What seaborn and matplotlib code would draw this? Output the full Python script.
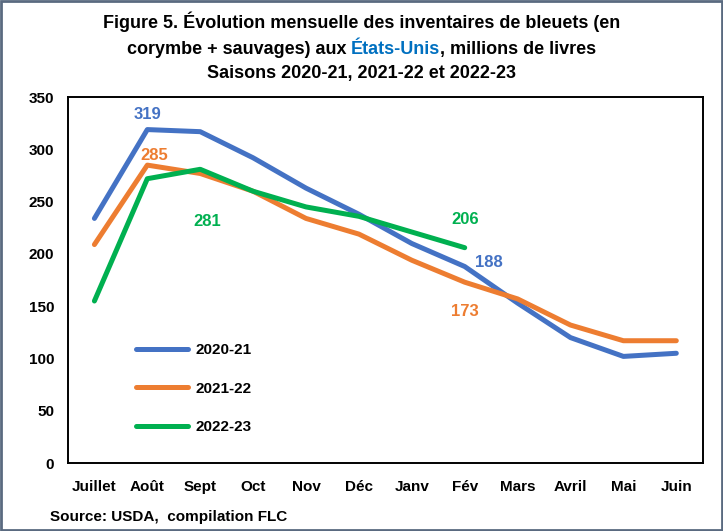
import pandas as pd
import numpy as np
import matplotlib.pyplot as plt
import seaborn as sns
from matplotlib.patches import Rectangle

# Data
months = ['Juillet', 'Août', 'Sept', 'Oct', 'Nov', 'Déc', 'Janv', 'Fév',
          'Mars', 'Avril', 'Mai', 'Juin']
s2020 = [234, 319, 317, 292, 263, 238, 210, 188, 153, 120, 102, 105]
s2021 = [209, 285, 277, 260, 234, 219, 194, 173, 157, 132, 117, 117]
s2022 = [155, 272, 281, 260, 245, 236, 221, 206]
seasons = ['2020-21', '2021-22', '2022-23']
colors = ['#4472C4', '#ED7D31', '#00B050']

rows = []
for season, vals in zip(seasons, [s2020, s2021, s2022]):
    for m, v in zip(months, vals):
        rows.append({'Mois': m, 'Valeur': v, 'Saison': season})
df = pd.DataFrame(rows)

sns.set_theme(style="white")
plt.rcParams['font.family'] = ['Liberation Sans Narrow', 'Liberation Sans', 'DejaVu Sans']
plt.rcParams['font.weight'] = 'bold'
plt.rcParams['text.color'] = 'black'

fig = plt.figure(figsize=(7.23, 5.31), dpi=100)
ax = fig.add_axes([0.094, 0.128, 0.878, 0.689])

sns.lineplot(data=df, x='Mois', y='Valeur', hue='Saison', palette=colors,
             linewidth=3.6, sort=False, ax=ax)
for line in ax.get_lines():
    line.set_solid_capstyle('round')

ax.set_xlim(-0.5, 11.5)
ax.set_ylim(0, 350)
ax.set_yticks(range(0, 351, 50))
ax.set_xlabel('')
ax.set_ylabel('')
ax.tick_params(axis='both', length=0, labelsize=11, colors='black')
ax.tick_params(axis='x', pad=12)
ax.tick_params(axis='y', pad=10)
for lab in ax.get_xticklabels() + ax.get_yticklabels():
    lab.set_fontweight('bold')
for sp in ax.spines.values():
    sp.set_color('black')
    sp.set_linewidth(1.4)

# Data labels
lab_kw = dict(fontsize=12, fontweight='bold', ha='center', va='center')
ax.text(1, 333, '319', color=colors[0], **lab_kw)
ax.text(1.13, 294, '285', color=colors[1], **lab_kw)
ax.text(2.13, 231, '281', color=colors[2], **lab_kw)
ax.text(7, 233, '206', color=colors[2], **lab_kw)
ax.text(7.45, 192, '188', color=colors[0], **lab_kw)
ax.text(7, 145, '173', color=colors[1], **lab_kw)

# Legend
leg = ax.legend(loc='upper left', bbox_to_anchor=(0.085, 0.365), frameon=False,
                handlelength=3.4, handletextpad=0.5, labelspacing=1.6,
                prop={'weight': 'bold', 'size': 11})
for h in leg.get_lines():
    h.set_linewidth(3.6)
    h.set_solid_capstyle('round')

# Title
tsize = 13
t_kw = dict(fontsize=tsize, fontweight='bold', ha='center', va='center')
fig.text(0.5, 0.959, 'Figure 5. Évolution mensuelle des inventaires de bleuets (en', **t_kw)
fig.text(0.5, 0.862, 'Saisons 2020-21, 2021-22 et 2022-23', **t_kw)
parts = [('corymbe + sauvages) aux ', 'black'), ('États-Unis', '#0070C0'),
         (', millions de livres', 'black')]
fig.canvas.draw()
renderer = fig.canvas.get_renderer()
texts = []
widths = []
for s, c in parts:
    t = fig.text(0, 0.906, s, color=c, fontsize=tsize, fontweight='bold',
                 ha='left', va='center')
    w = t.get_window_extent(renderer=renderer).width
    texts.append(t)
    widths.append(w)
figw = fig.get_figwidth() * fig.dpi
x0 = (figw - sum(widths)) / 2
for t, w in zip(texts, widths):
    t.set_x(x0 / figw)
    x0 += w

# Source
fig.text(0.069, 0.026, 'Source: USDA,  compilation FLC', fontsize=11,
         fontweight='bold', ha='left', va='center')

# Outer border
fig.patches.append(Rectangle((0.002, 0.002), 0.996, 0.996, transform=fig.transFigure,
                             fill=False, edgecolor='#5A6A80', linewidth=2.0))

fig.savefig('out.png', dpi=100)
